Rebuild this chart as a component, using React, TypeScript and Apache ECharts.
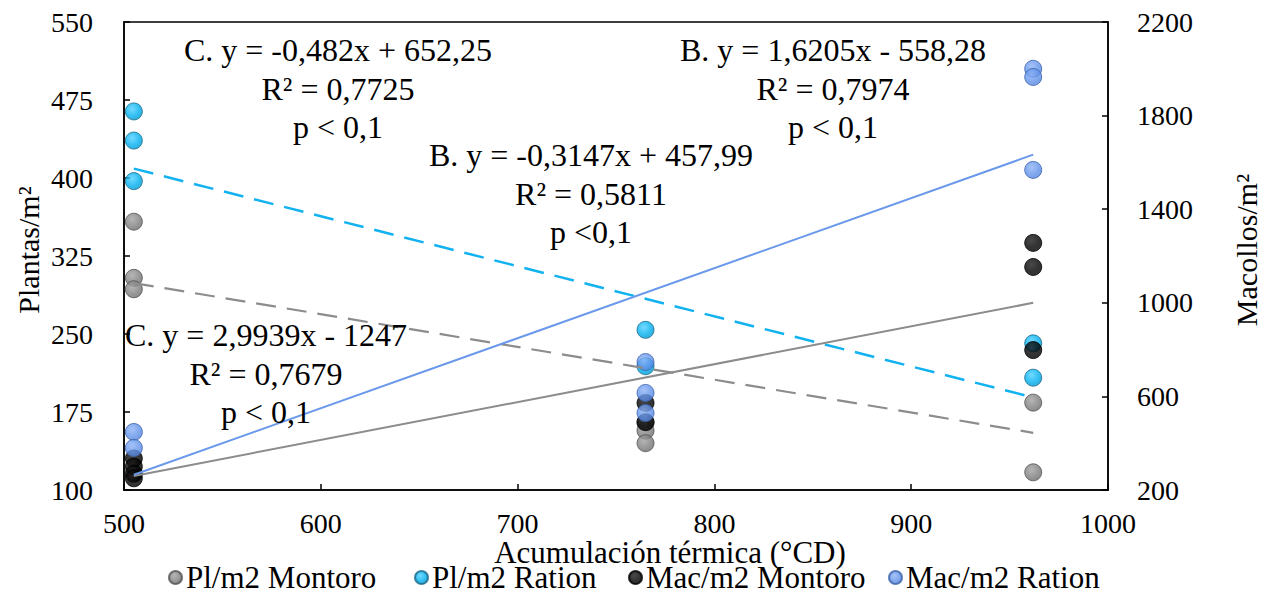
import React, { useEffect, useRef } from "react";
import * as echarts from "echarts";

// ---- data ----
const xTickValues = [500, 600, 700, 800, 900, 1000];
const leftTickValues = [100, 175, 250, 325, 400, 475, 550];
const rightTickValues = [200, 600, 1000, 1400, 1800, 2200];

const seriesNames = ["Pl/m2 Montoro", "Pl/m2 Ration", "Mac/m2 Montoro", "Mac/m2 Ration"];

const plMontoro = [
  [505, 358], [505, 304], [505, 293],
  [765, 165], [765, 157], [765, 145],
  [962, 184], [962, 117],
];
const plRation = [
  [505, 464], [505, 436], [505, 397],
  [765, 254], [765, 219],
  [962, 241], [962, 208],
];
const macMontoro = [
  [505, 335], [505, 300], [505, 270], [505, 250],
  [765, 572], [765, 490],
  [962, 1256], [962, 1153], [962, 798],
];
const macRation = [
  [505, 448], [505, 380],
  [765, 747], [765, 615], [765, 529],
  [962, 2000], [962, 1965], [962, 1568],
];

const trendPlMontoro = [[505, 299], [962, 155]];
const trendPlRation = [[505, 409], [962, 189]];
const trendMacMontoro = [[505, 260], [962, 1000]];
const trendMacRation = [[505, 265], [962, 1633]];

const annotationLines = [
  ["C. y = -0,482x + 652,25", "R² = 0,7725", "p < 0,1"],
  ["B. y = 1,6205x - 558,28", "R² = 0,7974", "p < 0,1"],
  ["B. y = -0,3147x + 457,99", "R² = 0,5811", "p <0,1"],
  ["C. y = 2,9939x - 1247", "R² = 0,7679", "p < 0,1"],
];

const FONT = "Liberation Serif";

function grad(light: string, mid: string, dark: string) {
  return new echarts.graphic.RadialGradient(0.4, 0.35, 0.7, [
    { offset: 0, color: light },
    { offset: 0.6, color: mid },
    { offset: 1, color: dark },
  ]);
}

export default function App() {
  const ref = useRef<HTMLDivElement>(null);
  useEffect(() => {
    if (!ref.current) return;
    const chart = echarts.init(ref.current, undefined, { renderer: "svg" });

    const styles = [
      { color: grad("#a3a3a3", "#7f7f7f", "#6a6a6a"), borderColor: "#555555", borderWidth: 1 },
      { color: grad("#4fd0ff", "#00b0f0", "#0096cc"), borderColor: "#1a6a8a", borderWidth: 1 },
      { color: grad("#1c1c1c", "#000000", "#000000"), borderColor: "#000000", borderWidth: 1 },
      { color: grad("#8fb4f5", "#6393ea", "#5283dc"), borderColor: "#3d64ad", borderWidth: 1 },
    ];
    const datas = [plMontoro, plRation, macMontoro, macRation];
    const axisIdx = [0, 0, 1, 1];

    const scatter = datas.map((d, i) => ({
      name: seriesNames[i],
      type: "scatter",
      yAxisIndex: axisIdx[i],
      data: d,
      symbol: "circle",
      symbolSize: 17,
      itemStyle: styles[i],
      z: 3,
    }));

    const trend = (data: number[][], yIdx: number, color: string, type: any, width: number) => ({
      type: "line",
      yAxisIndex: yIdx,
      data,
      symbol: "none",
      silent: true,
      lineStyle: { color, width, type },
      z: 4,
    });

    const annPos = [
      [338, 50],
      [833, 50],
      [591, 155],
      [266, 335],
    ];
    const annGraphics: any[] = [];
    annotationLines.forEach((lines, k) => {
      lines.forEach((t, j) => {
        annGraphics.push({
          type: "text",
          x: annPos[k][0],
          y: annPos[k][1] + j * 38.5,
          style: {
            text: t,
            fontFamily: FONT,
            fontSize: 32,
            lineHeight: 32,
            fill: "#000",
            align: "center",
            verticalAlign: "middle",
          },
          z: 10,
        });
      });
    });

    const legendLefts = [168, 414, 628, 888];
    const legends = seriesNames.map((n, i) => ({
      data: [n],
      left: legendLefts[i],
      top: 562,
      itemWidth: 13,
      itemHeight: 13,
      icon: "circle",
      itemGap: 0,
      textStyle: { fontFamily: FONT, fontSize: 31, lineHeight: 26, color: "#000", padding: [0, 0, 0, -1] },
      padding: 0,
    }));

    const axisFont = { fontFamily: FONT, fontSize: 28, color: "#000" };
    const plain = (v: number) => String(v);

    chart.setOption({
      animation: false,
      backgroundColor: "#fff",
      grid: {
        left: 124,
        right: 156,
        top: 22,
        bottom: 106,
        show: true,
        borderColor: "#000",
        borderWidth: 1.5,
        backgroundColor: "transparent",
      },
      legend: legends,
      xAxis: {
        type: "value",
        min: 500,
        max: 1000,
        interval: 100,
        axisLine: { show: true, lineStyle: { color: "#000", width: 1.5 } },
        axisTick: { show: true, inside: true, length: 6, lineStyle: { color: "#000", width: 1.5 }, customValues: xTickValues },
        axisLabel: { ...axisFont, lineHeight: 24, margin: 21, formatter: plain, customValues: xTickValues },
        splitLine: { show: false },
      },
      yAxis: [
        {
          type: "value",
          min: 100,
          max: 550,
          position: "left",
          axisLine: { show: true, lineStyle: { color: "#000", width: 1.5 } },
          axisTick: { show: true, inside: true, length: 6, lineStyle: { color: "#000", width: 1.5 }, customValues: leftTickValues },
          axisLabel: { ...axisFont, margin: 31, formatter: plain, customValues: leftTickValues },
          splitLine: { show: false },
        },
        {
          type: "value",
          min: 200,
          max: 2200,
          position: "right",
          axisLine: { show: true, lineStyle: { color: "#000", width: 1.5 } },
          axisTick: { show: true, inside: true, length: 6, lineStyle: { color: "#000", width: 1.5 }, customValues: rightTickValues },
          axisLabel: { ...axisFont, margin: 29, formatter: plain, customValues: rightTickValues },
          splitLine: { show: false },
        },
      ],
      graphic: [
        {
          type: "text",
          x: 28,
          y: 250,
          rotation: Math.PI / 2,
          style: { text: "Plantas/m²", fontFamily: FONT, fontSize: 30, fill: "#000", align: "center", verticalAlign: "middle" },
        },
        {
          type: "text",
          x: 1246,
          y: 250,
          rotation: Math.PI / 2,
          style: { text: "Macollos/m²", fontFamily: FONT, fontSize: 30, fill: "#000", align: "center", verticalAlign: "middle" },
        },
        {
          type: "text",
          x: 670,
          y: 552,
          style: { text: "Acumulación térmica (°CD)", fontFamily: FONT, fontSize: 31, lineHeight: 24, fill: "#000", align: "center", verticalAlign: "middle" },
        },
        ...annGraphics,
      ],
      series: [
        ...scatter,
        trend(trendPlMontoro, 0, "#8c8c8c", [20, 11], 2.2),
        trend(trendPlRation, 0, "#12b2f0", [20, 11], 2.5),
        trend(trendMacMontoro, 1, "#8c8c8c", "solid", 2),
        trend(trendMacRation, 1, "#6a98ea", "solid", 2),
      ],
    });
    return () => chart.dispose();
  }, []);

  return (
    <div
      ref={ref}
      style={{ position: "fixed", left: 0, top: 0, width: 1264, height: 596, background: "#fff" }}
    />
  );
}
